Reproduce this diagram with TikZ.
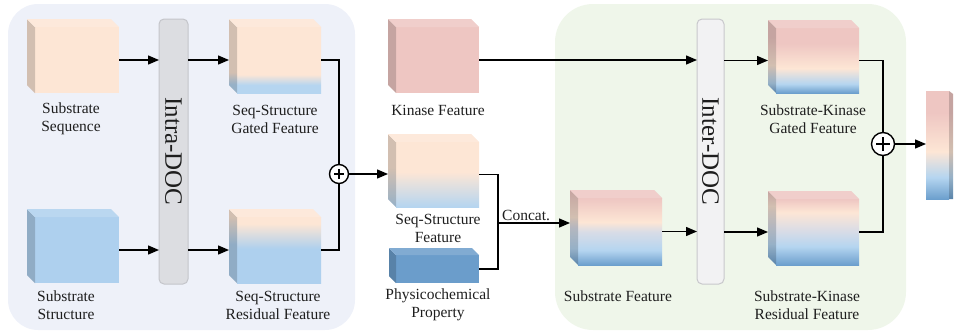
\documentclass[tikz,border=0pt]{standalone}
\usepackage{fontspec}
\usepackage{graphicx}
\setmainfont{Liberation Serif}
\usetikzlibrary{arrows.meta}

\definecolor{peach}{HTML}{FDE6D5}
\definecolor{pink}{HTML}{EEC6C2}
\definecolor{lblue}{HTML}{B5D5F0}
\definecolor{sblue}{HTML}{AED0EE}
\definecolor{dblue}{HTML}{6C9FCD}
\definecolor{midg}{HTML}{D9DCE6}
\definecolor{phys}{HTML}{6B9DCB}
\definecolor{panelL}{HTML}{EEF1F9}
\definecolor{panelR}{HTML}{EFF6EA}
\definecolor{barA}{HTML}{DCDDE1}
\definecolor{barAb}{HTML}{C4C5CA}
\definecolor{barB}{HTML}{F2F2F3}
\definecolor{barBb}{HTML}{C8C8CC}
\definecolor{txt}{HTML}{1E1E1E}

% vertical shadings: 25bp = bottom of shape, 75bp = top of shape
\pgfdeclareverticalshading{shGatedA}{100bp}{color(0bp)=(lblue); color(31bp)=(lblue); color(39bp)=(peach); color(100bp)=(peach)}
\pgfdeclareverticalshading{shResA}{100bp}{color(0bp)=(sblue); color(51bp)=(sblue); color(70bp)=(peach); color(100bp)=(peach)}
\pgfdeclareverticalshading{shSSF}{100bp}{color(0bp)=(lblue); color(25bp)=(lblue); color(52bp)=(peach); color(100bp)=(peach)}
\pgfdeclareverticalshading{shSubF}{100bp}{color(0bp)=(dblue); color(25bp)=(dblue); color(36bp)=(lblue); color(50bp)=(midg); color(57bp)=(peach); color(75bp)=(pink); color(100bp)=(pink)}
\pgfdeclareverticalshading{shGatedB}{100bp}{color(0bp)=(dblue); color(25bp)=(dblue); color(32bp)=(lblue); color(44bp)=(peach); color(63bp)=(pink); color(100bp)=(pink)}
\pgfdeclareverticalshading{shResB}{100bp}{color(0bp)=(dblue); color(25bp)=(dblue); color(39bp)=(lblue); color(51bp)=(midg); color(65bp)=(peach); color(75bp)=(pink); color(100bp)=(pink)}
\pgfdeclareverticalshading{shOut}{100bp}{color(0bp)=(dblue); color(25bp)=(dblue); color(35bp)=(lblue); color(47bp)=(peach); color(65bp)=(pink); color(100bp)=(pink)}

% #1 node, #2 face style, #3 depth, #4 top colour
\newcommand{\cubefaces}[4]{%
  \path[#2] (#1.north west) -- ++(-#3,-#3) -- ([shift={(-#3,-#3)}]#1.south west) -- (#1.south west) -- cycle;
  \fill[black,opacity=.17] (#1.north west) -- ++(-#3,-#3) -- ([shift={(-#3,-#3)}]#1.south west) -- (#1.south west) -- cycle;
  \fill[#4] (#1.north west) -- ++(-#3,-#3) -- ([shift={(-#3,-#3)}]#1.north east) -- (#1.north east) -- cycle;
  \fill[white,opacity=.15] (#1.north west) -- ++(-#3,-#3) -- ([shift={(-#3,-#3)}]#1.north east) -- (#1.north east) -- cycle;
}

\tikzset{
  front/.style={rectangle, inner sep=0pt, outer sep=0pt, draw=none},
  lbl/.style={inner sep=0pt, align=center, text=txt, font=\fontsize{15.5}{18}\selectfont},
  docbar/.style={rectangle, rounded corners=5pt, inner sep=0pt, outer sep=0pt, line width=1pt,
     minimum height=265pt, text=txt, font=\fontsize{25}{25}\selectfont},
  arr/.style={line width=1.4pt, -{Triangle[length=11pt,width=9pt]}},
  ln/.style={line width=1.4pt},
  oplus/.style={circle, draw, line width=1.4pt, fill=white, inner sep=0pt, outer sep=0pt},
}

\begin{document}
\begin{tikzpicture}[x=1pt,y=-1pt]
\useasboundingbox (0,0) rectangle (955,333);

% panels
\fill[panelL, rounded corners=30pt] (8,4) rectangle (355,330);
\fill[panelR, rounded corners=38pt] (555,4) rectangle (906,330);

% ---------- left block ----------
\node[front, fill=peach, minimum width=84pt, minimum height=66pt] (seq) at (77,60) {};
\cubefaces{seq}{fill=peach}{8}{peach}
\node[front, fill=sblue, minimum width=84pt, minimum height=66pt] (struct) at (77,250) {};
\cubefaces{struct}{fill=sblue}{8}{sblue}

\node[docbar, fill=barA, draw=barAb, minimum width=29pt] (intra) at (173.5,151.5) {\rotatebox{-90}{Intra-DOC}};

\node[front, shade, shading=shGatedA, minimum width=84pt, minimum height=66pt] (gatedA) at (279,60) {};
\cubefaces{gatedA}{shade, shading=shGatedA}{8}{peach}
\node[front, shade, shading=shResA, minimum width=84pt, minimum height=66pt] (resA) at (279,250) {};
\cubefaces{resA}{shade, shading=shResA}{8}{peach}

\node[oplus, minimum size=19pt] (opA) at (339,174) {};
\draw[line width=1.2pt] ([xshift=-5pt]opA.center) -- ([xshift=5pt]opA.center)
  ([yshift=-5pt]opA.center) -- ([yshift=5pt]opA.center);

\node[lbl] (lseq) at (71,119) {Substrate\\Sequence};
\node[lbl] (lstruct) at (66,305) {Substrate\\Structure};
\node[lbl] (lgatedA) at (275,119) {Seq-Structure\\Gated Feature};
\node[lbl] (lresA) at (278,305) {Seq-Structure\\Residual Feature};

% ---------- middle column ----------
\node[front, fill=pink, minimum width=83pt, minimum height=66pt] (kin) at (437.5,60) {};
\cubefaces{kin}{fill=pink}{8}{pink}
\node[front, shade, shading=shSSF, minimum width=83pt, minimum height=65pt] (ssf) at (437.5,174.5) {};
\cubefaces{ssf}{shade, shading=shSSF}{8}{peach}
\node[front, fill=phys, minimum width=83pt, minimum height=28pt] (phys) at (437.5,269) {};
\cubefaces{phys}{fill=phys}{7}{phys}

\node[lbl] (lkin) at (438,110) {Kinase Feature};
\node[lbl] (lssf) at (438,228) {Seq-Structure\\Feature};
\node[lbl] (lphys) at (438,305) {Physicochemical\\Property};

% ---------- right block ----------
\node[front, shade, shading=shSubF, minimum width=84pt, minimum height=67pt] (subf) at (620,231.5) {};
\cubefaces{subf}{shade, shading=shSubF}{8}{pink}

\node[docbar, fill=barB, draw=barBb, minimum width=27pt] (inter) at (710.5,151.5) {\rotatebox{-90}{Inter-DOC}};

\node[front, shade, shading=shGatedB, minimum width=83pt, minimum height=65pt] (gatedB) at (817.5,60.5) {};
\cubefaces{gatedB}{shade, shading=shGatedB}{8}{pink}
\node[front, shade, shading=shResB, minimum width=83pt, minimum height=66pt] (resB) at (817.5,232) {};
\cubefaces{resB}{shade, shading=shResB}{8}{pink}

\node[oplus, minimum size=23pt] (opB) at (883,144) {};
\draw[line width=1.3pt] ([xshift=-7pt]opB.center) -- ([xshift=7pt]opB.center)
  ([yshift=-7pt]opB.center) -- ([yshift=7pt]opB.center);

\node[front, shade, shading=shOut, minimum width=23pt, minimum height=108pt] (out) at (937.5,145) {};
\path[shade, shading=shOut] (out.north east) -- ++(4,3) -- ([shift={(4,0)}]out.south east) -- (out.south east) -- cycle;
\fill[black,opacity=.17] (out.north east) -- ++(4,3) -- ([shift={(4,0)}]out.south east) -- (out.south east) -- cycle;

\node[lbl] (lsubf) at (618,296) {Substrate Feature};
\node[lbl] (lgatedB) at (813,119) {Substrate-Kinase\\Gated Feature};
\node[lbl] (lresB) at (807,305) {Substrate-Kinase\\Residual Feature};

% ---------- connectors ----------
\draw[arr] (seq.east) -- (seq.east -| intra.west);
\draw[arr] (struct.east) -- (struct.east -| intra.west);
\draw[arr] (intra.east |- gatedA.west) -- ([xshift=-8pt]gatedA.west);
\draw[arr] (intra.east |- resA.west) -- ([xshift=-8pt]resA.west);
\draw[ln] (gatedA.east) -| (opA.north);
\draw[ln] (resA.east) -| (opA.south);
\draw[arr] (opA.east) -- ([xshift=-8pt]opA.east -| ssf.west);

\coordinate (jn) at (498,223);
\draw[ln] (ssf.east) -| (jn);
\draw[ln] (phys.east) -| (jn);
\draw[arr] (jn) -- ([xshift=-8pt]jn -| subf.west);
\node[lbl, anchor=south west] (concat) at ([xshift=4pt,yshift=2pt]jn) {Concat.};

\draw[arr] (kin.east) -- (kin.east -| inter.west);
\draw[arr] (subf.east) -- (subf.east -| inter.west);
\draw[arr] (inter.east |- gatedB.west) -- ([xshift=-8pt]gatedB.west);
\draw[arr] (inter.east |- resB.west) -- ([xshift=-8pt]resB.west);
\draw[ln] (gatedB.east) -| (opB.north);
\draw[ln] (resB.east) -| (opB.south);
\draw[arr] (opB.east) -- (opB.east -| out.west);
\end{tikzpicture}
\end{document}
